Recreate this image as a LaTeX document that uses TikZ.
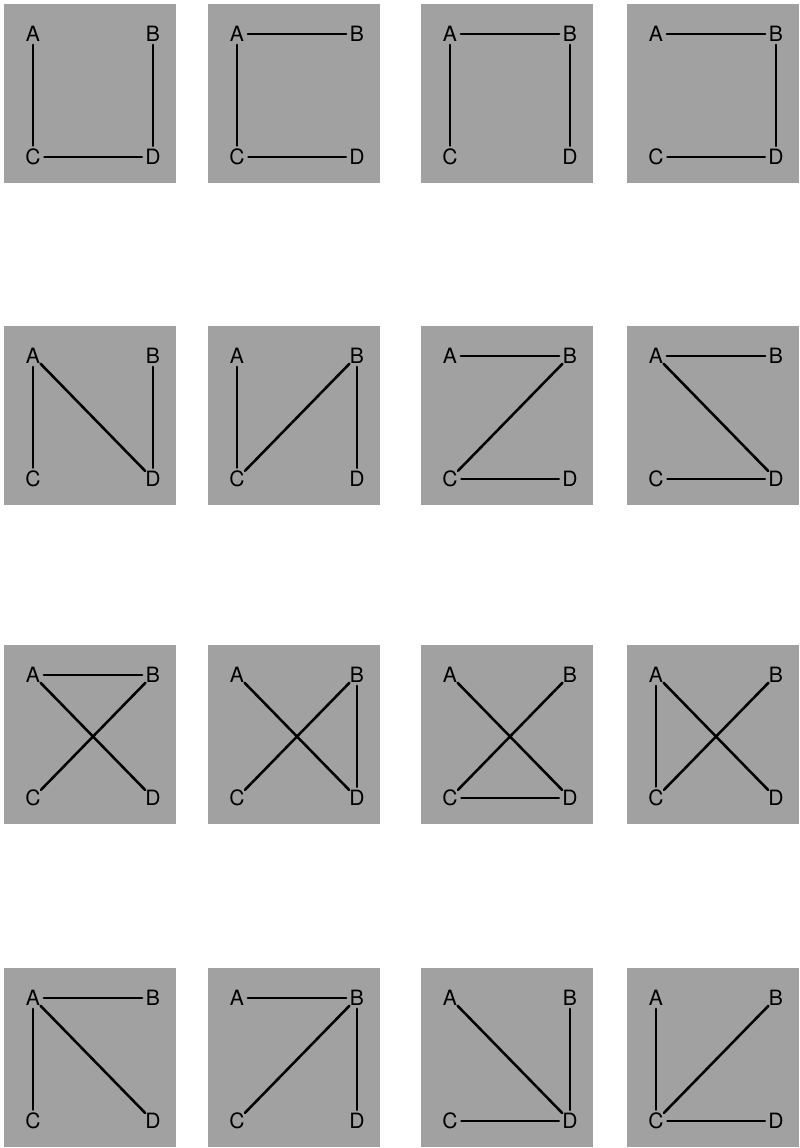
\documentclass[tikz,border=0pt]{standalone}
\usepackage{fontspec}
\setmainfont{TeX Gyre Heros}
\usetikzlibrary{math}

\tikzset{
  panel/.style={fill=black!37},
  vtx/.style={circle, inner sep=0pt, minimum size=15pt, font=\fontsize{15}{17}\selectfont},
  edge/.style={line width=1.8pt, line cap=round}
}

\newcommand{\graphpanel}[3]{%
\begin{scope}[shift={(#1,#2)}]
\fill[panel] (0,0) rectangle (172,179);
\node[vtx] (A) at (29,30) {A};
\node[vtx] (B) at (149,30) {B};
\node[vtx] (C) at (29,153) {C};
\node[vtx] (D) at (149,153) {D};
\foreach \u/\v in {#3} \draw[edge] (\u) -- (\v);
\end{scope}}

\begin{document}
\begin{tikzpicture}[x=0.025cm, y=-0.025cm]
\useasboundingbox (0,0) rectangle (800,1148);

% first row
\graphpanel{4}{4}{A/C, B/D, C/D}
\graphpanel{208}{4}{A/B, A/C, C/D}
\graphpanel{421}{4}{A/B, A/C, B/D}
\graphpanel{627}{4}{A/B, B/D, C/D}

% second row
\graphpanel{4}{326}{A/C, A/D, B/D}
\graphpanel{208}{326}{A/C, C/B, B/D}
\graphpanel{421}{326}{A/B, B/C, C/D}
\graphpanel{627}{326}{A/B, A/D, C/D}

% third row
\graphpanel{4}{645}{A/B, A/D, B/C}
\graphpanel{208}{645}{A/D, B/C, B/D}
\graphpanel{421}{645}{A/D, B/C, C/D}
\graphpanel{627}{645}{A/C, A/D, B/C}

% fourth row
\graphpanel{4}{968}{A/B, A/C, A/D}
\graphpanel{208}{968}{A/B, B/C, B/D}
\graphpanel{421}{968}{A/D, B/D, C/D}
\graphpanel{627}{968}{A/C, C/B, C/D}

\end{tikzpicture}
\end{document}
